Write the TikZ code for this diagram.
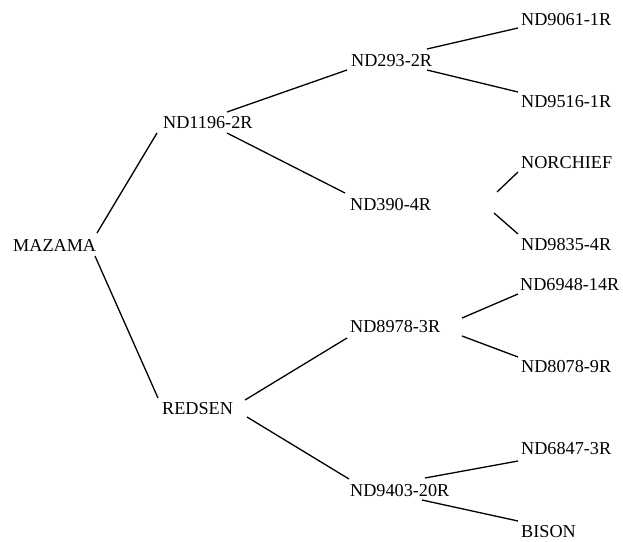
\documentclass[tikz,border=0pt]{standalone}
\usepackage{fontspec}
\setmainfont{Liberation Serif}
\begin{document}
\begin{tikzpicture}[x={(1pt,0)},y={(0,-1pt)},
  lbl/.style={anchor=base west,inner sep=0pt,font=\fontsize{18.2}{20}\selectfont},
  edge/.style={line width=1.3pt}]
\useasboundingbox (0,0) rectangle (623,541);
\node[lbl] (maz) at (13,251) {MAZAMA};
\node[lbl] (a1) at (163,128) {ND1196-2R};
\node[lbl] (a2) at (351,66) {ND293-2R};
\node[lbl] (a3) at (521,25) {ND9061-1R};
\node[lbl] (a4) at (521,107) {ND9516-1R};
\node[lbl] (a5) at (350,210) {ND390-4R};
\node[lbl] (a6) at (521,168) {NORCHIEF};
\node[lbl] (a7) at (521,250) {ND9835-4R};
\node[lbl] (b1) at (162,414) {REDSEN};
\node[lbl] (b2) at (350,332) {ND8978-3R};
\node[lbl] (b3) at (520,290) {ND6948-14R};
\node[lbl] (b4) at (521,372) {ND8078-9R};
\node[lbl] (b5) at (350,496) {ND9403-20R};
\node[lbl] (b6) at (521,454) {ND6847-3R};
\node[lbl] (b7) at (521,537) {BISON};
\draw[edge] ([shift={(84,-18)}]maz.base west) -- ([shift={(-6,5)}]a1.base west);
\draw[edge] ([shift={(82,5)}]maz.base west) -- ([shift={(-4,-16)}]b1.base west);
\draw[edge] ([shift={(64,-16)}]a1.base west) -- ([shift={(-4,4)}]a2.base west);
\draw[edge] ([shift={(64,5)}]a1.base west) -- ([shift={(-5,-17)}]a5.base west);
\draw[edge] ([shift={(76,-17)}]a2.base west) -- ([shift={(-3,3)}]a3.base west);
\draw[edge] ([shift={(76,4)}]a2.base west) -- ([shift={(-3,-15)}]a4.base west);
\draw[edge] ([shift={(147,-18)}]a5.base west) -- ([shift={(-3,4)}]a6.base west);
\draw[edge] ([shift={(144,3)}]a5.base west) -- ([shift={(-3,-16)}]a7.base west);
\draw[edge] ([shift={(83,-14)}]b1.base west) -- ([shift={(-3,6)}]b2.base west);
\draw[edge] ([shift={(85,3)}]b1.base west) -- ([shift={(-1,-17)}]b5.base west);
\draw[edge] ([shift={(112,-14)}]b2.base west) -- ([shift={(-2,4)}]b3.base west);
\draw[edge] ([shift={(112,4)}]b2.base west) -- ([shift={(-3,-15)}]b4.base west);
\draw[edge] ([shift={(75,-18)}]b5.base west) -- ([shift={(-3,7)}]b6.base west);
\draw[edge] ([shift={(72,4)}]b5.base west) -- ([shift={(-3,-16)}]b7.base west);
\end{tikzpicture}
\end{document}
